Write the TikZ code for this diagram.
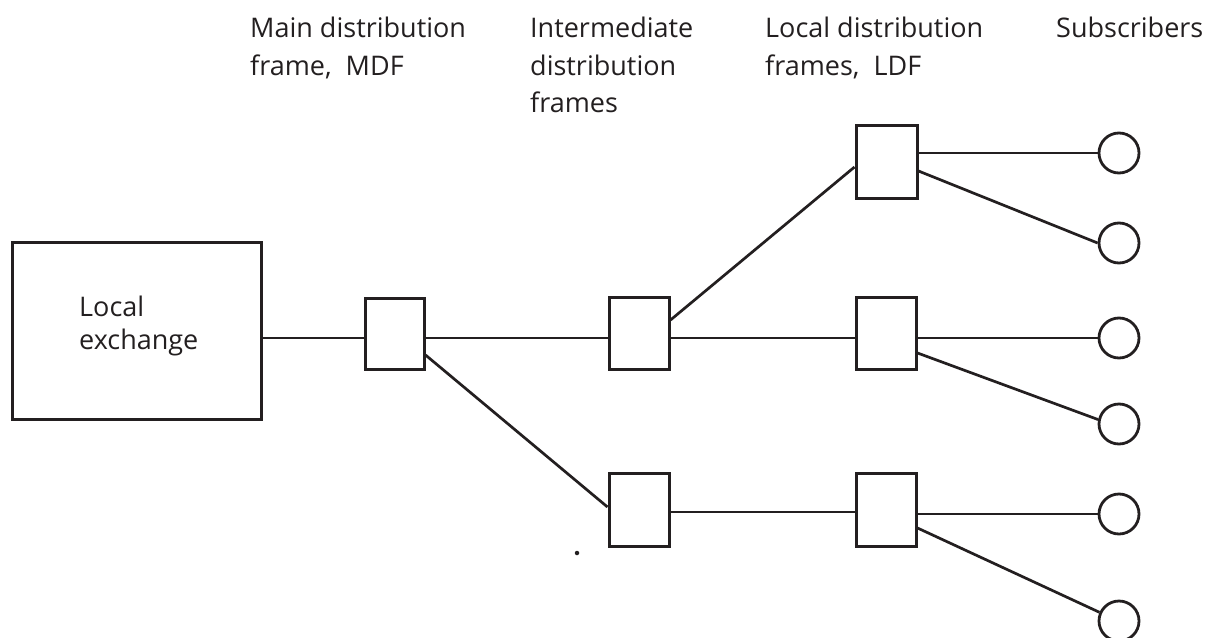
\documentclass[tikz,border=0pt]{standalone}
\usepackage{fontspec}
\setmainfont{Open Sans}
\usetikzlibrary{calc}
\definecolor{ink}{HTML}{231F20}
\begin{document}
\begin{tikzpicture}[x=1pt,y=-1pt,
  frame/.style={draw=ink,line width=3pt,rectangle,inner sep=0pt,minimum width=60pt,minimum height=72pt},
  sub/.style={draw=ink,line width=2.8pt,circle,inner sep=0pt,minimum size=40pt},
  wire/.style={draw=ink,line width=2.7pt},
  lbl/.style={anchor=north west,inner sep=0pt,align=left,text=ink,font=\fontsize{27}{37.5}\selectfont}]
\useasboundingbox (0,0) rectangle (1207,637);
% labels
\node[lbl] (tmdf) at (250,17) {Main distribution\\frame,\ \ MDF};
\node[lbl] (tidf) at (530,17) {Intermediate\\distribution\\frames};
\node[lbl] (tldf) at (765,17) {Local distribution\\frames,\ \ LDF};
\node[lbl] (tsub) at (1056,17) {Subscribers};
% boxes
\node[frame,minimum width=249pt,minimum height=177pt] (exch) at (136.5,330.5) {};
\node[lbl,font=\fontsize{27}{33}\selectfont] (texch) at (79,296) {Local\\exchange};
\node[frame,minimum width=59pt,minimum height=71pt] (mdf) at (394.5,333.5) {};
\node[frame] (i1) at (639,333) {};
\node[frame,minimum height=73pt] (i2) at (639,510) {};
\node[frame,minimum width=61pt,minimum height=73pt] (l1) at (886.5,161.5) {};
\node[frame] (l2) at (886,333) {};
\node[frame,minimum height=73pt] (l3) at (886,510) {};
% subscribers
\node[sub] (s1) at (1119,153) {};
\node[sub] (s2) at (1119,243) {};
\node[sub] (s3) at (1119,338) {};
\node[sub] (s4) at (1119,424) {};
\node[sub] (s5) at (1119,514) {};
\node[sub] (s6) at (1119,621) {};
% stray dot
\node[circle,fill=ink,inner sep=0pt,minimum size=4.5pt] (dot) at (577,553) {};
% connectors
\draw[wire] ($(exch.east)+(0,7.5)$) -- ($(mdf.west)+(0,4.5)$);
\draw[wire] ($(mdf.east)+(0,4.5)$) -- ($(i1.west)+(0,5)$);
\draw[wire] ($(mdf.east)+(0,21.5)$) -- ($(i2.west)+(0,-3)$);
\draw[wire] ($(i1.east)+(0,-13)$) -- ($(l1.west)+(0,5.5)$);
\draw[wire] ($(i1.east)+(0,5)$) -- ($(l2.west)+(0,5)$);
\draw[wire] ($(i2.east)+(0,2)$) -- ($(l3.west)+(0,2)$);
\draw[wire] ($(l1.east)+(0,-8.5)$) -- (s1.west);
\draw[wire] ($(l1.east)+(0,9.5)$) -- (s2.west);
\draw[wire] ($(l2.east)+(0,5)$) -- (s3.west);
\draw[wire] ($(l2.east)+(0,20)$) -- (s4.168);
\draw[wire] ($(l3.east)+(0,4)$) -- (s5.west);
\draw[wire] ($(l3.east)+(0,18)$) -- (s6.156);
\end{tikzpicture}
\end{document}
